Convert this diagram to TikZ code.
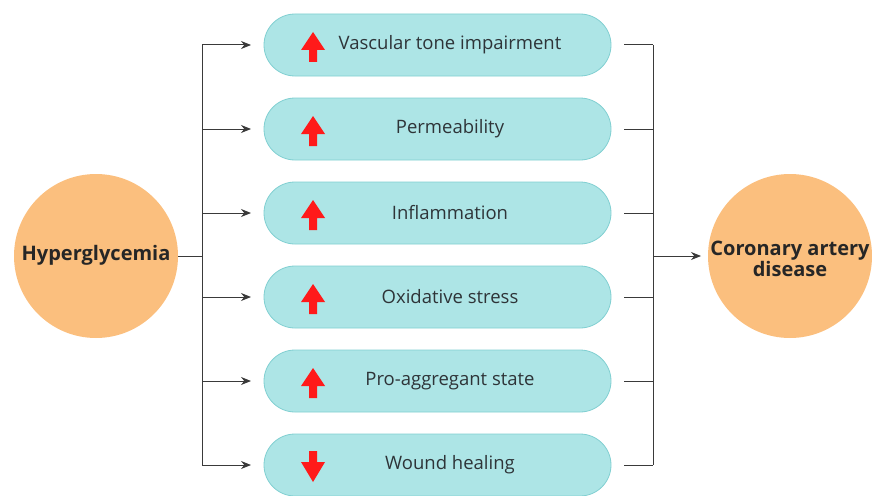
\documentclass[tikz,border=0pt]{standalone}
\usepackage{fontspec}
\setmainfont{Open Sans}
\usetikzlibrary{arrows.meta}
\definecolor{pillfill}{HTML}{ADE5E6}
\definecolor{pilledge}{HTML}{80CFD1}
\definecolor{orb}{HTML}{FBBF7E}
\definecolor{txt}{HTML}{2E3438}
\definecolor{redarr}{HTML}{FF1A1A}
\definecolor{conn}{HTML}{3A3A3A}
\tikzset{
  pill/.style={draw=pilledge, fill=pillfill, line width=0.8pt, rounded corners=31pt,
    minimum width=347pt, minimum height=62pt, inner sep=0pt},
  lbl/.style={text=txt, font=\fontsize{18.5}{20}\selectfont},
  orbnode/.style={circle, fill=orb, minimum size=164pt, inner sep=0pt},
  orbtext/.style={text=black!85, font=\fontsize{20}{21}\selectfont\bfseries, align=center},
  link/.style={draw=conn, line width=1pt},
  arr/.style={link, -{Stealth[length=10pt,width=8pt]}},
}
\begin{document}
\begin{tikzpicture}[x=1pt,y=-1pt]
\useasboundingbox (0,0) rectangle (872,495);
\begin{scope}
\clip (0,0) rectangle (872,495);
\node[orbnode] (hyp) at (96,256) {};
\node[orbtext] (hypt) at (96,255) {Hyperglycemia};
\node[orbnode] (cad) at (790,256) {};
\node[orbtext] (cadt) at (790,259) {Coronary artery\\disease};
\foreach \i/\y/\t in {1/45/Vascular tone impairment,2/129/Permeability,3/213/Inflammation,4/297/Oxidative stress,5/381/Pro-aggregant state,6/465/Wound healing}{
  \node[pill] (p\i) at (437.5,\y) {};
  \node[lbl] (t\i) at (450,\y) {\t};
  \coordinate (l\i) at (202,\y);
  \coordinate (r\i) at (653,\y);
  \coordinate (a\i) at (313,\y);
  \coordinate (e\i) at (251,\y);
  \coordinate (s\i) at (624,\y);
  \draw[arr] (l\i) -- (e\i);
  \draw[link] (s\i) -- (r\i);
}
% red arrows
\foreach \i in {1,...,5}{
  \fill[redarr] (a\i) ++(0,-13) -- ++(12,18) -- ++(-8,0) -- ++(0,12) -- ++(-8,0) -- ++(0,-12) -- ++(-8,0) -- cycle;
}
\fill[redarr] (a6) ++(0,17) -- ++(12,-20) -- ++(-8,0) -- ++(0,-11) -- ++(-8,0) -- ++(0,11) -- ++(-8,0) -- cycle;
\draw[link] (l1) -- (l6);
\draw[link] (r1) -- (r6);
\coordinate (hj) at (202,256);
\coordinate (cj) at (653,256);
\coordinate (ce) at (701,256);
\draw[link] (hyp.east) -- (hj);
\draw[arr] (cj) -- (ce);
\end{scope}
\end{tikzpicture}
\end{document}
